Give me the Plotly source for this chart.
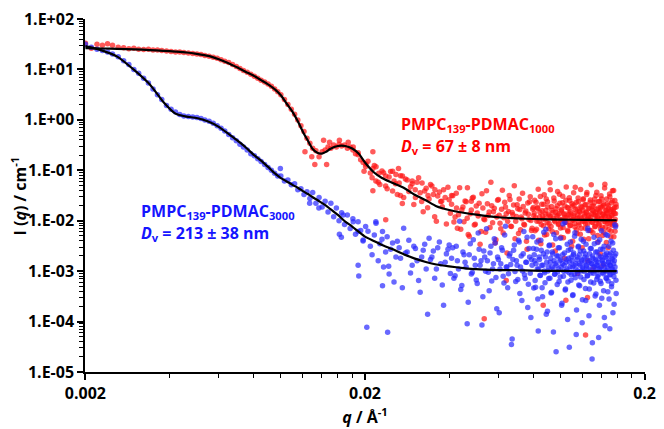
import plotly.graph_objects as go
import math

# ---------------- data ----------------
# shared q grid, low-q region (Å^-1)
q_low = [0.00200, 0.00210, 0.00220, 0.00230, 0.00240, 0.00250, 0.00262, 0.00274, 0.00286, 0.00298,
         0.00310, 0.00323, 0.00336, 0.00349, 0.00362, 0.00375, 0.00390, 0.00405, 0.00420, 0.00435,
         0.00450, 0.00467, 0.00484, 0.00501, 0.00518, 0.00535, 0.00554, 0.00573, 0.00592, 0.00611,
         0.00630, 0.00651, 0.00672, 0.00693, 0.00714, 0.00735, 0.00758, 0.00781, 0.00804, 0.00827,
         0.00850, 0.00875, 0.00900, 0.00925, 0.00950, 0.00975, 0.01000, 0.01030, 0.01060, 0.01090,
         0.01120, 0.01150, 0.01180, 0.01210, 0.01240, 0.01270, 0.01300, 0.01335, 0.01370, 0.01405,
         0.01440, 0.01475, 0.01510, 0.01545, 0.01580, 0.01615, 0.01650, 0.01690, 0.01730, 0.01770,
         0.01810, 0.01850, 0.01890, 0.01930, 0.01970, 0.02010]

red_low = [33.0, 26.5, 31.6, 30.3, 32.5, 30.3, 27.7, 27.0, 25.9, 26.5,
           25.3, 24.8, 25.3, 24.3, 24.3, 23.7, 23.2, 22.7, 22.2, 22.2,
           21.7, 21.2, 20.8, 20.3, 19.8, 19.0, 18.2, 17.4, 16.7, 15.6,
           14.6, 13.7, 12.5, 11.4, 10.5, 9.57, 8.77, 8.01, 7.34, 6.71,
           6.14, 5.62, 5.14, 4.63, 4.12, 3.61, 3.16, 2.53, 2.03, 1.63,
           1.30, 1.00, 0.767, 0.588, 0.431, 0.345, 0.275, 0.244, 0.186, 0.232,
           0.254, 0.290, 0.275, 0.316, 0.290, 0.330, 0.303, 0.316, 0.275, 0.290,
           0.254, 0.212, 0.222, 0.162, 0.142, 0.119]

blue_low = [31.6, 27.7, 25.3, 23.7, 22.2, 20.3, 17.8, 14.9, 12.5, 10.0,
            8.38, 6.71, 5.38, 4.12, 3.16, 2.53, 1.94, 1.63, 1.43, 1.28,
            1.20, 1.17, 1.14, 1.12, 1.07, 1.00, 0.936, 0.857, 0.767, 0.686,
            0.601, 0.515, 0.441, 0.386, 0.330, 0.289, 0.254, 0.212, 0.194, 0.170,
            0.149, 0.130, 0.114, 0.100, 0.0876, 0.0767, 0.0767, 0.0615, 0.0642, 0.0515,
            0.0538, 0.0413, 0.0432, 0.0330, 0.0377, 0.0277, 0.0361, 0.0222, 0.0289, 0.0186,
            0.0242, 0.0149, 0.0222, 0.0120, 0.0178, 0.0100, 0.0143, 0.00838, 0.0130, 0.00702,
            0.0109, 0.00538, 0.00957, 0.00642, 0.00413, 0.00767]

# high-q region, band A
q_high_a = [0.0205, 0.0212, 0.0219, 0.0226, 0.0233, 0.0240, 0.0247, 0.0254, 0.0261, 0.0268,
            0.0275, 0.0283, 0.0291, 0.0299, 0.0307, 0.0315, 0.0323, 0.0331, 0.0339, 0.0347,
            0.0355, 0.0364, 0.0373, 0.0382, 0.0391, 0.0400]
red_high_a = [0.152, 0.071, 0.118, 0.052, 0.089, 0.043, 0.095, 0.061, 0.033, 0.078,
              0.029, 0.064, 0.047, 0.021, 0.058, 0.036, 0.015, 0.044, 0.027, 0.049,
              0.012, 0.031, 0.024, 0.041, 0.0086, 0.026]
blue_high_a = [0.0062, 0.0021, 0.0089, 0.0035, 0.0012, 0.0048, 0.0027, 0.00061, 0.0039, 0.0018,
               0.0071, 0.0024, 0.00092, 0.0031, 0.0016, 0.00038, 0.0026, 0.0011, 0.0045, 0.0019,
               0.00072, 0.0029, 0.0014, 0.00021, 0.0022, 0.0033]

# band A' (interleaved)
q_high_f = [0.0209, 0.0216, 0.0223, 0.0230, 0.0237, 0.0244, 0.0251, 0.0258, 0.0265, 0.0272,
            0.0279, 0.0287, 0.0295, 0.0303, 0.0311, 0.0319, 0.0327, 0.0335, 0.0343, 0.0351,
            0.0360, 0.0369, 0.0378, 0.0387, 0.0396, 0.0404]
red_high_f = [0.088, 0.124, 0.058, 0.097, 0.049, 0.074, 0.039, 0.083, 0.056, 0.022,
              0.067, 0.038, 0.054, 0.029, 0.071, 0.024, 0.039, 0.018, 0.052, 0.033,
              0.0098, 0.037, 0.019, 0.029, 0.046, 0.014]
blue_high_f = [0.0031, 0.0052, 0.0016, 0.0043, 0.0024, 0.00088, 0.0036, 0.0019, 0.0029, 0.00047,
               0.0023, 0.0041, 0.0013, 0.0028, 0.00065, 0.0019, 0.0034, 0.00014, 0.0017, 0.0025,
               0.0011, 0.0038, 0.00053, 0.0015, 0.0027, 0.0009]

# band B
q_high_b = [0.0408, 0.0416, 0.0424, 0.0432, 0.0440, 0.0448, 0.0456, 0.0464, 0.0472, 0.0480,
            0.0488, 0.0496, 0.0504, 0.0512, 0.0520, 0.0528, 0.0536, 0.0544, 0.0552, 0.0560,
            0.0568, 0.0576, 0.0584, 0.0592, 0.0600, 0.0608, 0.0616, 0.0624, 0.0632, 0.0640,
            0.0648, 0.0656, 0.0664, 0.0672, 0.0680, 0.0688, 0.0696, 0.0704, 0.0712, 0.0720,
            0.0728, 0.0736, 0.0744, 0.0752, 0.0760, 0.0768, 0.0776, 0.0784, 0.0792, 0.0800]
red_high_b = [0.0213, 0.0094, 0.0352, 0.0131, 0.0068, 0.0187, 0.0246, 0.0112, 0.0049, 0.0163,
              0.0291, 0.0085, 0.0142, 0.0221, 0.0061, 0.0178, 0.0105, 0.0392, 0.0127, 0.0073,
              0.0198, 0.0151, 0.0036, 0.0118, 0.0264, 0.0089, 0.0169, 0.0057, 0.0231, 0.0138,
              0.0097, 0.0318, 0.0078, 0.0146, 0.0204, 0.0044, 0.0121, 0.0173, 0.0268, 0.0066,
              0.0109, 0.0192, 0.0082, 0.0155, 0.0027, 0.0134, 0.0238, 0.0101, 0.0071, 0.0182]
blue_high_b = [0.0018, 0.00072, 0.0031, 0.0011, 0.00043, 0.0024, 0.0015, 0.00009, 0.0021, 0.00088,
               0.0042, 0.0013, 0.00057, 0.0027, 0.0016, 0.00031, 0.0019, 0.0069, 0.00095, 0.0023,
               0.00064, 0.0014, 0.0036, 0.00018, 0.0017, 0.0011, 0.0029, 0.00079, 0.0052, 0.0012,
               0.00047, 0.0020, 0.00135, 0.000045, 0.0026, 0.00098, 0.0016, 0.00068, 0.0038, 0.0012,
               0.00026, 0.0022, 0.00085, 0.0015, 0.0047, 0.00055, 0.0019, 0.00012, 0.0013, 0.0028]

# band B' (interleaved)
q_high_d = [0.0412, 0.0420, 0.0428, 0.0436, 0.0444, 0.0452, 0.0460, 0.0468, 0.0476, 0.0484,
            0.0492, 0.0500, 0.0508, 0.0516, 0.0524, 0.0532, 0.0540, 0.0548, 0.0556, 0.0564,
            0.0572, 0.0580, 0.0588, 0.0596, 0.0604, 0.0612, 0.0620, 0.0628, 0.0636, 0.0644,
            0.0652, 0.0660, 0.0668, 0.0676, 0.0684, 0.0692, 0.0700, 0.0708, 0.0716, 0.0724,
            0.0732, 0.0740, 0.0748, 0.0756, 0.0764, 0.0772, 0.0780, 0.0788, 0.0796, 0.0803]
red_high_d = [0.0312, 0.0118, 0.0071, 0.0452, 0.0165, 0.0095, 0.0238, 0.0053, 0.0137, 0.0281,
              0.0082, 0.0196, 0.0124, 0.0034, 0.0341, 0.0108, 0.0059, 0.0217, 0.0148, 0.0576,
              0.0091, 0.0176, 0.0042, 0.0256, 0.0129, 0.0069, 0.0401, 0.0114, 0.0186, 0.0023,
              0.0153, 0.0263, 0.0077, 0.0132, 0.0492, 0.0098, 0.0207, 0.0056, 0.0166, 0.0119,
              0.0349, 0.0085, 0.0142, 0.0039, 0.0224, 0.0106, 0.0298, 0.0064, 0.0171, 0.0126]
blue_high_d = [0.0029, 0.00081, 0.0016, 0.0097, 0.00052, 0.0021, 0.0012, 0.00024, 0.0035, 0.00094,
               0.0018, 0.00067, 0.0057, 0.0013, 0.000085, 0.0025, 0.00099, 0.0016, 0.00041, 0.0031,
               0.0011, 0.0044, 0.00075, 0.0019, 0.00015, 0.0014, 0.0026, 0.00058, 0.0078, 0.0012,
               0.00089, 0.0022, 0.000035, 0.0017, 0.0033, 0.00062, 0.0013, 0.0041, 0.00036, 0.0020,
               0.0010, 0.0061, 0.00071, 0.0015, 0.00019, 0.0028, 0.00091, 0.0017, 0.0048, 0.00046]

# band C
q_high_c = [0.0806, 0.0812, 0.0818, 0.0824, 0.0830, 0.0836, 0.0842, 0.0848, 0.0854, 0.0860,
            0.0866, 0.0872, 0.0878, 0.0884, 0.0890, 0.0896, 0.0902, 0.0908, 0.0914, 0.0920,
            0.0926, 0.0932, 0.0938, 0.0944, 0.0950, 0.0956, 0.0962, 0.0968, 0.0974, 0.0980,
            0.0986, 0.0992, 0.0998, 0.1004, 0.1010, 0.1016, 0.1022, 0.1028, 0.1034, 0.1040,
            0.1046, 0.1052, 0.1058, 0.1064, 0.1070, 0.1076, 0.1082, 0.1088, 0.1094, 0.1100,
            0.1106, 0.1112, 0.1118, 0.1124, 0.1130, 0.1136, 0.1142, 0.1148, 0.1154, 0.1160,
            0.1166, 0.1172, 0.1178, 0.1184, 0.1190, 0.1196, 0.1202, 0.1208, 0.1214, 0.1220,
            0.1226, 0.1232, 0.1238, 0.1244, 0.1250, 0.1256, 0.1262, 0.1268, 0.1274, 0.1280,
            0.1286, 0.1292, 0.1298, 0.1304, 0.1310, 0.1316, 0.1322, 0.1328, 0.1334, 0.1340,
            0.1346, 0.1352, 0.1358, 0.1364, 0.1370, 0.1376, 0.1382, 0.1388, 0.1394, 0.1400,
            0.1406, 0.1412, 0.1418, 0.1424, 0.1430, 0.1436, 0.1442, 0.1448, 0.1454, 0.1460,
            0.1466, 0.1472, 0.1478, 0.1484, 0.1490, 0.1496, 0.1502, 0.1508, 0.1514, 0.1520,
            0.1526, 0.1532, 0.1538, 0.1544, 0.1550, 0.1556, 0.1562, 0.1568, 0.1574, 0.1580]
red_high_c = [0.0142, 0.0063, 0.0231, 0.0098, 0.0175, 0.0041, 0.0119, 0.0302, 0.0084, 0.0157,
              0.0107, 0.0213, 0.0052, 0.0136, 0.0268, 0.0091, 0.0188, 0.0069, 0.0124, 0.0411,
              0.0077, 0.0161, 0.0033, 0.0113, 0.0246, 0.0095, 0.0147, 0.0058, 0.0197, 0.0128,
              0.0087, 0.0335, 0.0104, 0.0047, 0.0169, 0.0226, 0.0073, 0.0139, 0.0018, 0.0116,
              0.0254, 0.0093, 0.0182, 0.0061, 0.0131, 0.0286, 0.0079, 0.0152, 0.0101, 0.0218,
              0.0039, 0.0126, 0.0204, 0.0088, 0.0463, 0.0109, 0.0066, 0.0171, 0.0135, 0.0241,
              0.0082, 0.0149, 0.0054, 0.0194, 0.0112, 0.0029, 0.0163, 0.0274, 0.0097, 0.0121,
              0.0071, 0.0209, 0.0144, 0.0362, 0.0086, 0.0118, 0.0044, 0.0178, 0.0105, 0.0258,
              0.0064, 0.0137, 0.0192, 0.0092, 0.0011, 0.0155, 0.0227, 0.0076, 0.0129, 0.0316,
              0.0099, 0.0167, 0.0051, 0.0114, 0.0238, 0.0083, 0.0146, 0.0022, 0.0186, 0.0108,
              0.0271, 0.0074, 0.0133, 0.0201, 0.0059, 0.0122, 0.0527, 0.0094, 0.0159, 0.0037,
              0.0141, 0.0216, 0.0089, 0.0174, 0.0067, 0.0115, 0.0297, 0.0102, 0.0048, 0.0165,
              0.0127, 0.0249, 0.0081, 0.0153, 0.0396, 0.0096, 0.0183, 0.0062, 0.0138, 0.0212]
blue_high_c = [0.0021, 0.00065, 0.0014, 0.0038, 0.00028, 0.0011, 0.0017, 0.00082, 0.0026, 0.00047,
               0.0013, 0.0059, 0.00093, 0.0019, 0.00014, 0.0024, 0.0010, 0.00071, 0.0033, 0.0015,
               0.00037, 0.0012, 0.0022, 0.000062, 0.0016, 0.00088, 0.0044, 0.0013, 0.00054, 0.0020,
               0.0011, 0.0029, 0.00076, 0.0017, 0.00021, 0.0014, 0.0086, 0.00099, 0.0023, 0.00042,
               0.0015, 0.0010, 0.0034, 0.00061, 0.0018, 0.000031, 0.0012, 0.0027, 0.00085, 0.0016,
               0.00033, 0.0021, 0.0013, 0.0049, 0.00074, 0.0011, 0.00017, 0.0019, 0.0009, 0.0031,
               0.0014, 0.00051, 0.0025, 0.0010, 0.0017, 0.000095, 0.0012, 0.0039, 0.00068, 0.0015,
               0.0022, 0.00026, 0.0013, 0.0018, 0.00081, 0.0064, 0.0011, 0.00044, 0.0016, 0.0028,
               0.00092, 0.0014, 0.000018, 0.0020, 0.0012, 0.00058, 0.0035, 0.0010, 0.0017, 0.00035,
               0.0013, 0.0024, 0.00077, 0.0015, 0.000048, 0.0011, 0.0042, 0.00063, 0.0019, 0.0012,
               0.00029, 0.0016, 0.0027, 0.00089, 0.0014, 0.00012, 0.0021, 0.0010, 0.0053, 0.00071,
               0.0018, 0.0012, 0.00039, 0.0015, 0.0031, 0.00084, 0.000072, 0.0013, 0.0023, 0.0011,
               0.00056, 0.0017, 0.0036, 0.00095, 0.0014, 0.00022, 0.0020, 0.0012, 0.0076, 0.00066]

# band C' (interleaved)
q_high_e = [0.0809, 0.0815, 0.0821, 0.0827, 0.0833, 0.0839, 0.0845, 0.0851, 0.0857, 0.0863,
            0.0869, 0.0875, 0.0881, 0.0887, 0.0893, 0.0899, 0.0905, 0.0911, 0.0917, 0.0923,
            0.0929, 0.0935, 0.0941, 0.0947, 0.0953, 0.0959, 0.0965, 0.0971, 0.0977, 0.0983,
            0.0989, 0.0995, 0.1001, 0.1007, 0.1013, 0.1019, 0.1025, 0.1031, 0.1037, 0.1043,
            0.1049, 0.1055, 0.1061, 0.1067, 0.1073, 0.1079, 0.1085, 0.1091, 0.1097, 0.1103,
            0.1109, 0.1115, 0.1121, 0.1127, 0.1133, 0.1139, 0.1145, 0.1151, 0.1157, 0.1163,
            0.1169, 0.1175, 0.1181, 0.1187, 0.1193, 0.1199, 0.1205, 0.1211, 0.1217, 0.1223,
            0.1229, 0.1235, 0.1241, 0.1247, 0.1253, 0.1259, 0.1265, 0.1271, 0.1277, 0.1283,
            0.1289, 0.1295, 0.1301, 0.1307, 0.1313, 0.1319, 0.1325, 0.1331, 0.1337, 0.1343,
            0.1349, 0.1355, 0.1361, 0.1367, 0.1373, 0.1379, 0.1385, 0.1391, 0.1397, 0.1403,
            0.1409, 0.1415, 0.1421, 0.1427, 0.1433, 0.1439, 0.1445, 0.1451, 0.1457, 0.1463,
            0.1469, 0.1475, 0.1481, 0.1487, 0.1493, 0.1499, 0.1505, 0.1511, 0.1517, 0.1523,
            0.1529, 0.1535, 0.1541, 0.1547, 0.1553, 0.1559, 0.1565, 0.1571, 0.1577, 0.1583]
red_high_e = [0.0256, 0.0114, 0.0068, 0.0183, 0.0421, 0.0097, 0.0147, 0.0035, 0.0212, 0.0126,
              0.0079, 0.0326, 0.0109, 0.0162, 0.0053, 0.0237, 0.0134, 0.0088, 0.0569, 0.0118,
              0.0191, 0.0061, 0.0146, 0.0282, 0.0101, 0.0025, 0.0172, 0.0123, 0.0378, 0.0084,
              0.0139, 0.0221, 0.0072, 0.0158, 0.0106, 0.0305, 0.0046, 0.0131, 0.0199, 0.0093,
              0.0466, 0.0116, 0.0065, 0.0178, 0.0143, 0.0248, 0.0081, 0.0121, 0.0031, 0.0194,
              0.0103, 0.0357, 0.0137, 0.0075, 0.0167, 0.0229, 0.0056, 0.0112, 0.0283, 0.0091,
              0.0154, 0.0119, 0.0414, 0.0071, 0.0185, 0.0098, 0.0261, 0.0043, 0.0136, 0.0205,
              0.0087, 0.0149, 0.0331, 0.0107, 0.0016, 0.0173, 0.0127, 0.0064, 0.0232, 0.0115,
              0.0514, 0.0094, 0.0161, 0.0058, 0.0195, 0.0132, 0.0271, 0.0078, 0.0145, 0.0104,
              0.0368, 0.0122, 0.0038, 0.0179, 0.0089, 0.0243, 0.0152, 0.0069, 0.0312, 0.0111,
              0.0188, 0.0051, 0.0135, 0.0217, 0.0096, 0.0446, 0.0124, 0.0074, 0.0163, 0.0268,
              0.0101, 0.0143, 0.0029, 0.0199, 0.0117, 0.0339, 0.0085, 0.0156, 0.0062, 0.0226,
              0.0128, 0.0392, 0.0092, 0.0171, 0.0048, 0.0139, 0.0253, 0.0106, 0.0081, 0.0187]
blue_high_e = [0.0016, 0.00048, 0.0027, 0.0011, 0.000065, 0.0019, 0.00083, 0.0041, 0.0013, 0.00031,
               0.0022, 0.0010, 0.00059, 0.0068, 0.0015, 0.00016, 0.0012, 0.0032, 0.00072, 0.0018,
               0.00038, 0.0024, 0.0011, 0.0053, 0.00087, 0.0014, 0.000025, 0.0020, 0.00096, 0.0029,
               0.00062, 0.0016, 0.0045, 0.0012, 0.00023, 0.0021, 0.00079, 0.0013, 0.0092, 0.00044,
               0.0017, 0.0011, 0.00011, 0.0026, 0.00093, 0.0015, 0.0038, 0.00066, 0.0019, 0.0012,
               0.00034, 0.0023, 0.00088, 0.0058, 0.0014, 0.000055, 0.0017, 0.0010, 0.0030, 0.00053,
               0.0021, 0.0013, 0.00076, 0.0043, 0.0016, 0.00027, 0.0011, 0.0025, 0.00098, 0.0019,
               0.00045, 0.0034, 0.0012, 0.00081, 0.0071, 0.0015, 0.00013, 0.0022, 0.0010, 0.00061,
               0.0028, 0.0014, 0.000038, 0.0018, 0.00091, 0.0047, 0.0012, 0.00032, 0.0024, 0.0016,
               0.00069, 0.0013, 0.0037, 0.00085, 0.0020, 0.00021, 0.0011, 0.0027, 0.00057, 0.0063,
               0.0017, 0.00094, 0.0014, 0.00041, 0.0031, 0.0012, 0.000082, 0.0019, 0.00074, 0.0023,
               0.0010, 0.0051, 0.00064, 0.0015, 0.00028, 0.0021, 0.0013, 0.00086, 0.0039, 0.00049,
               0.0018, 0.0011, 0.00015, 0.0026, 0.00078, 0.0016, 0.0083, 0.00097, 0.0022, 0.00036]

# additional scattered points
red_extra_q = [0.01323, 0.01458, 0.0129, 0.0122, 0.01422, 0.01494, 0.0162, 0.01742, 0.01815, 0.0189,
               0.02134, 0.02016, 0.01984, 0.02134, 0.0224, 0.02187, 0.02372, 0.0251, 0.02635, 0.02572,
               0.02722, 0.0295, 0.02372, 0.02134, 0.02678, 0.03025, 0.032, 0.0336, 0.03557, 0.0376,
               0.0408, 0.0425, 0.0465, 0.048,
               0.0534, 0.0868, 0.123, 0.1046, 0.125, 0.0640, 0.1150, 0.1420]
red_extra_I = [0.130, 0.130, 0.186, 0.232, 0.395, 0.361, 0.395, 0.361, 0.290, 0.203,
               0.232, 0.134, 0.0957, 0.109, 0.0876, 0.0615, 0.0767, 0.0957, 0.109, 0.0538,
               0.0767, 0.0615, 0.0105, 0.0392, 0.0316, 0.0413, 0.0562, 0.0316, 0.0413, 0.0242,
               0.0316, 0.0178, 0.0451, 0.0242,
               0.000114, 0.00021, 0.000054, 0.000265, 0.00030, 0.00065, 0.0009, 0.0013]
blue_extra_q = [0.00996, 0.01268, 0.01368, 0.0167, 0.0162, 0.01815, 0.0189, 0.01968, 0.02187, 0.0231,
                0.01646, 0.0189, 0.0190, 0.0203, 0.0241, 0.0231, 0.0243]
blue_extra_I = [0.109, 0.0222, 0.0178, 0.0130, 0.00538, 0.00957, 0.00614, 0.00395, 0.00957, 0.00614,
                0.00471, 0.0013, 0.00080, 0.000077, 0.000061, 0.00051, 0.00125]

# model fits
fit_q = [0.0020, 0.0023, 0.0026, 0.0030, 0.0034, 0.0038, 0.0042, 0.0046, 0.0050, 0.0055,
         0.0060, 0.0065, 0.0070, 0.0075, 0.0080, 0.0085, 0.0090, 0.0095, 0.0100, 0.0105,
         0.0110, 0.0115, 0.0120, 0.0125, 0.0130, 0.0135, 0.0140, 0.0145, 0.0150, 0.0160,
         0.0170, 0.0180, 0.0190, 0.0200, 0.0215, 0.0230, 0.0250, 0.0275, 0.0300, 0.0330,
         0.0360, 0.0400, 0.0450, 0.0500, 0.0600, 0.0700, 0.0800, 0.1000, 0.1200, 0.1400, 0.1590]
red_fit = [26.5, 26.1, 25.6, 25.0, 24.3, 23.5, 22.6, 21.7, 20.4, 18.6,
           15.9, 13.3, 10.9, 8.95, 7.49, 6.14, 5.07, 4.09, 3.09, 2.09,
           1.46, 0.936, 0.577, 0.386, 0.265, 0.222, 0.215, 0.232, 0.265, 0.303,
           0.303, 0.270, 0.212, 0.143, 0.0915, 0.0702, 0.0567, 0.0451, 0.0330, 0.0254,
           0.0194, 0.0163, 0.0144, 0.0132, 0.0117, 0.0111, 0.0108, 0.0105, 0.0104, 0.0103, 0.0102]
blue_fit = [29.0, 23.7, 18.0, 9.57, 5.03, 2.27, 1.33, 1.16, 1.09, 0.927,
            0.727, 0.526, 0.386, 0.283, 0.203, 0.156, 0.117, 0.0876, 0.0702, 0.0601,
            0.0514, 0.0451, 0.0386, 0.0338, 0.0292, 0.0258, 0.0226, 0.0200, 0.0172, 0.0130,
            0.00957, 0.00767, 0.00601, 0.00482, 0.00395, 0.00330, 0.00274, 0.00217, 0.00179, 0.00152,
            0.00135, 0.00124, 0.00115, 0.00109, 0.00105, 0.00104, 0.00102, 0.00101, 0.00100, 0.00100, 0.00100]

y_tickvals = [1e-5, 1e-4, 1e-3, 1e-2, 1e-1, 1e0, 1e1, 1e2]
y_ticktext = ["1.E-05", "1.E-04", "1.E-03", "1.E-02", "1.E-01", "1.E+00", "1.E+01", "1.E+02"]
x_tickvals = [0.002, 0.02, 0.2]
x_ticktext = ["0.002", "0.02", "0.2"]

# ---------------- figure ----------------
FONT = "Open Sans"
q_all = q_low + q_high_a + q_high_f + q_high_b + q_high_d + q_high_c + q_high_e
red_q = q_all + red_extra_q
red_I = red_low + red_high_a + red_high_f + red_high_b + red_high_d + red_high_c + red_high_e + red_extra_I
blue_q = q_all + blue_extra_q
blue_I = blue_low + blue_high_a + blue_high_f + blue_high_b + blue_high_d + blue_high_c + blue_high_e + blue_extra_I

fig = go.Figure()
fig.add_trace(go.Scatter(x=red_q, y=red_I, mode="markers",
                         marker=dict(size=5.5, color="rgba(255,20,20,0.7)", line=dict(width=0)),
                         showlegend=False))
fig.add_trace(go.Scatter(x=blue_q, y=blue_I, mode="markers",
                         marker=dict(size=5.5, color="rgba(40,40,255,0.7)", line=dict(width=0)),
                         showlegend=False))
for fit in (red_fit, blue_fit):
    fig.add_trace(go.Scatter(x=fit_q, y=fit, mode="lines",
                             line=dict(color="black", width=2.2, shape="spline", smoothing=0.6),
                             showlegend=False))

x_minor = [m * 10.0 ** e for e in (-3, -2) for m in (4, 6, 8, 10, 12, 14, 16, 18)]
y_minor = [m * 10.0 ** e for e in range(-5, 2) for m in range(2, 10)]
EPS = 0.0015

fig.update_xaxes(type="log", range=[math.log10(0.002) - EPS, math.log10(0.2) + EPS],
                 tickmode="array", tickvals=x_tickvals, ticktext=x_ticktext,
                 ticks="outside", ticklen=6, tickwidth=1.5, tickcolor="black",
                 minor=dict(tickmode="array", tickvals=x_minor, ticks="outside",
                            ticklen=4, tickwidth=1.2, tickcolor="black", showgrid=False),
                 showline=True, linecolor="black", linewidth=1.5,
                 showgrid=False, zeroline=False, ticklabeloverflow="allow",
                 tickfont=dict(family=FONT, size=16, color="black", weight="bold"),
                 title=dict(text="<i>q</i> / Å<sup>-1</sup>",
                            font=dict(family=FONT, size=16, color="black", weight="bold"),
                            standoff=2))
fig.update_yaxes(type="log", range=[-5 - EPS, 2 + EPS],
                 tickmode="array", tickvals=y_tickvals, ticktext=y_ticktext,
                 ticks="outside", ticklen=6, tickwidth=1.5, tickcolor="black",
                 minor=dict(tickmode="array", tickvals=y_minor, ticks="outside",
                            ticklen=4, tickwidth=1.2, tickcolor="black", showgrid=False),
                 showline=True, linecolor="black", linewidth=1.5,
                 showgrid=False, zeroline=False, ticklabeloverflow="allow",
                 tickfont=dict(family=FONT, size=16, color="black", weight="bold"))

ann_font_r = dict(family=FONT, size=16, color="#ff0000", weight="bold")
ann_font_b = dict(family=FONT, size=16, color="#1515ff", weight="bold")
annotations = [
    dict(text="PMPC<sub>139</sub>-PDMAC<sub>1000</sub>", x=0.560, y=0.700, font=ann_font_r,
         xanchor="left", yanchor="middle"),
    dict(text="<i>D</i><sub>v</sub> = 67 ± 8 nm", x=0.560, y=0.640, font=ann_font_r,
         xanchor="left", yanchor="middle"),
    dict(text="PMPC<sub>139</sub>-PDMAC<sub>3000</sub>", x=0.0968, y=0.455, font=ann_font_b,
         xanchor="left", yanchor="middle"),
    dict(text="<i>D</i><sub>v</sub> = 213 ± 38 nm", x=0.0968, y=0.393, font=ann_font_b,
         xanchor="left", yanchor="middle"),
    # y-axis title
    dict(text="I (<i>q</i>) / cm<sup>-1</sup>", x=-0.118, y=0.5, textangle=-90,
         font=dict(family=FONT, size=16, color="black", weight="bold"),
         xanchor="center", yanchor="middle"),
]
for a in annotations:
    a.update(xref="paper", yref="paper", showarrow=False)

fig.update_layout(width=664, height=429, margin=dict(l=85, r=11, t=8, b=57),
                  plot_bgcolor="white", paper_bgcolor="white",
                  annotations=annotations, showlegend=False)

fig.write_html("out.html", config={"displayModeBar": False},
               post_script="document.body.style.margin='0px';")
